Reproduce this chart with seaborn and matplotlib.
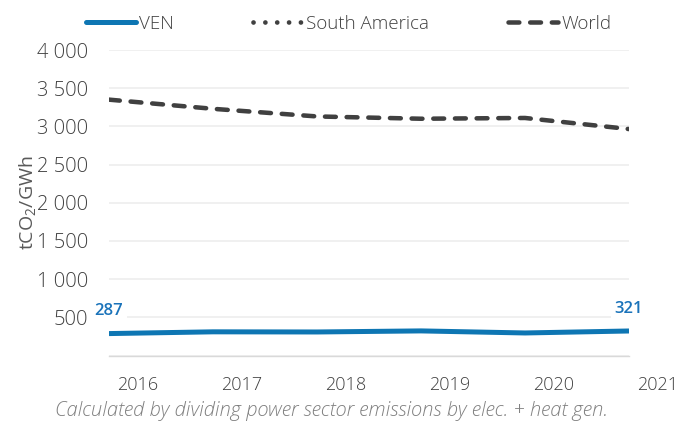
import matplotlib
matplotlib.use("Agg")
import matplotlib.pyplot as plt
import matplotlib.transforms as mtransforms
from matplotlib.lines import Line2D
import seaborn as sns
import pandas as pd

# ---- data ----
years = [2016, 2017, 2018, 2019, 2020, 2021]
ven = [287, 310, 308, 322, 295, 321]
south_america = [None, None, None, None, None, None]
world = [3350, 3230, 3130, 3100, 3110, 2965]
series_names = ["VEN", "South America", "World"]
y_ticks = [0, 500, 1000, 1500, 2000, 2500, 3000, 3500, 4000]
y_tick_labels = ["", "500", "1 000", "1 500", "2 000", "2 500", "3 000", "3 500", "4 000"]
x_tick_labels = ["2016", "2017", "2018", "2019", "2020", "2021"]
y_label = "tCO$_2$/GWh"
footnote = "Calculated by dividing power sector emissions by elec. + heat gen."

# ---- style ----
sns.set_theme(style="white")
plt.rcParams['font.family'] = ['Open Sans', 'DejaVu Sans']
plt.rcParams['font.weight'] = 'light'
plt.rcParams['mathtext.default'] = 'regular'

VEN_C = "#0E76B3"
LBL_C = "#1A73BA"
DARK = "#404040"

fig = plt.figure(figsize=(6.97, 4.23), dpi=100)
ax = fig.add_axes([109/697, 1-355.5/423, 520/697, 305.5/423])

df = pd.DataFrame({"year": years, "VEN": ven, "South America": south_america, "World": world})

world_ls = (0, (2.4, 2.4))
dot_ls = (0, (0.01, 2.5))

sns.lineplot(data=df, x="year", y="World", ax=ax, color=DARK, lw=3.25,
             linestyle=world_ls, dash_capstyle='round', legend=False)
sa = df.dropna(subset=["South America"])
if len(sa):
    sns.lineplot(data=sa, x="year", y="South America", ax=ax, color=DARK, lw=3.4,
                 linestyle=dot_ls, dash_capstyle='round', legend=False)
sns.lineplot(data=df, x="year", y="VEN", ax=ax, color=VEN_C, lw=3.6,
             solid_capstyle='butt', legend=False)

ax.set_xlim(years[0], years[-1])
ax.set_ylim(y_ticks[0], y_ticks[-1])
ax.set_yticks(y_ticks)
ax.set_yticklabels(y_tick_labels)
ax.set_xticks(years)
ax.set_xticklabels(x_tick_labels)

ax.grid(axis='y', color='#EFEFEF', lw=1.3)
ax.grid(axis='x', visible=False)
ax.set_axisbelow(True)
for s in ['left', 'top', 'right']:
    ax.spines[s].set_visible(False)
ax.spines['bottom'].set_color('#D9D9D9')
ax.spines['bottom'].set_linewidth(1.0)

ax.tick_params(axis='y', length=0, pad=15, labelsize=14.5, labelcolor=DARK)
ax.tick_params(axis='x', length=6, width=1, color='#D9D9D9', direction='out',
               pad=9, labelsize=13, labelcolor=DARK)
offset = mtransforms.ScaledTranslation(8/100, 0, fig.dpi_scale_trans)
for lab in ax.get_xticklabels():
    lab.set_horizontalalignment('left')
    lab.set_transform(lab.get_transform() + offset)

ax.set_xlabel("")
ax.set_ylabel(y_label, fontsize=14, color='#595959')
ax.yaxis.set_label_coords(-0.136, 0.5)

# data labels at ends
for i in [0, len(years) - 1]:
    ax.annotate(f"{ven[i]}", (years[i], ven[i]), xytext=(0, 16), textcoords='offset points',
                ha='center', va='center', fontsize=12, fontweight='semibold', color=LBL_C,
                bbox=dict(boxstyle='square,pad=0.25', fc='white', ec='none'))

handles = [
    Line2D([], [], color=VEN_C, lw=3.6, solid_capstyle='round'),
    Line2D([], [], color=DARK, lw=3.4, linestyle=dot_ls, dash_capstyle='round'),
    Line2D([], [], color=DARK, lw=3.25, linestyle=world_ls, dash_capstyle='round'),
]
fig.legend(handles, series_names, loc='center', bbox_to_anchor=(0.5, 1-24/423), ncol=3,
           frameon=False, handlelength=2.7, handletextpad=0.15, columnspacing=4.2,
           fontsize=13.5, labelcolor=DARK)

fig.text(0.475, 1-411/423, footnote, ha='center', va='center', style='italic',
         color='#7F7F7F', fontsize=14.5)

fig.savefig("out.png", dpi=100)
